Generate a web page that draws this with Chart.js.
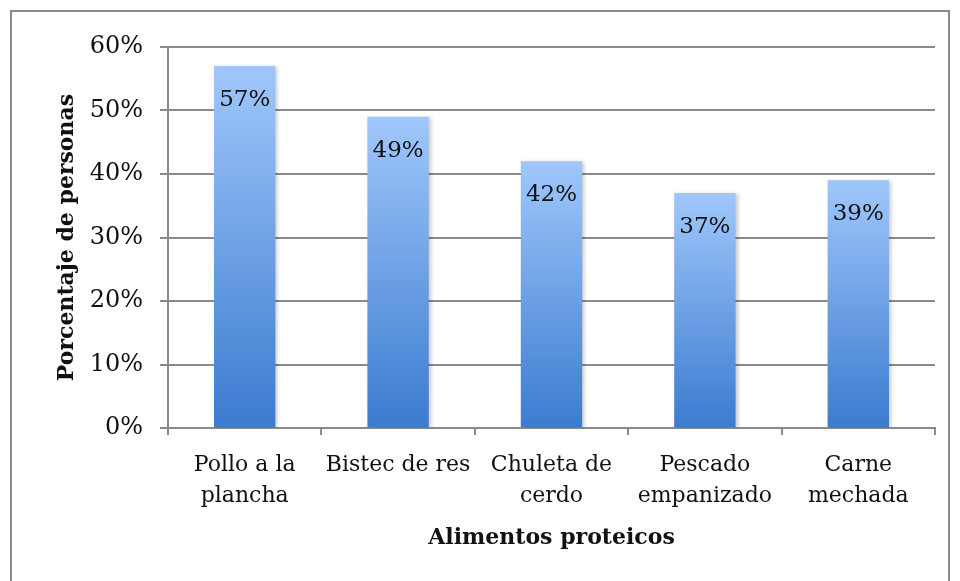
<!DOCTYPE html>
<html>
<head>
<meta charset="utf-8">
<script src="https://cdn.jsdelivr.net/npm/chart.js@4/dist/chart.umd.min.js"></script>
<style>
  html, body { margin: 0; padding: 0; background: #fff; }
  #wrap { width: 960px; height: 581px; }
</style>
</head>
<body>
<div id="wrap"><canvas id="proteinChart" width="960" height="581"></canvas></div>
<script>
// datos
const categories = [
  ["Pollo a la", "plancha"],
  ["Bistec de res"],
  ["Chuleta de", "cerdo"],
  ["Pescado", "empanizado"],
  ["Carne", "mechada"]
];
const percentages = [57, 49, 42, 37, 39];
const yTicks = [0, 10, 20, 30, 40, 50, 60];

const serif = "'DejaVu Serif', 'Liberation Serif', serif";
const gridGray = "#8a8a8a";

// degradado por barra (claro arriba, oscuro abajo)
function barGradient(context) {
  const chart = context.chart;
  const y = chart.scales.y;
  if (!chart.chartArea || !y) return "#6fa0e6";
  const top = y.getPixelForValue(context.raw);
  const bottom = y.getPixelForValue(0);
  const g = chart.ctx.createLinearGradient(0, top, 0, bottom);
  g.addColorStop(0, "#a0c7fb");
  g.addColorStop(1, "#3b7bcf");
  return g;
}

// marco gris alrededor del gráfico
const framePlugin = {
  id: "frame",
  beforeDraw(chart) {
    const ctx = chart.ctx;
    ctx.save();
    ctx.fillStyle = "#fff";
    ctx.fillRect(0, 0, chart.width, chart.height);
    ctx.strokeStyle = "#8c8c8c";
    ctx.lineWidth = 2;
    ctx.strokeRect(11, 11, 938, 600);
    ctx.restore();
  }
};

// sombra suave de las barras
const shadowPlugin = {
  id: "barShadow",
  beforeDatasetsDraw(chart) {
    const ctx = chart.ctx;
    ctx.save();
    ctx.shadowColor = "rgba(0,0,0,0.22)";
    ctx.shadowBlur = 4;
    ctx.shadowOffsetX = 2;
    ctx.shadowOffsetY = 1;
  },
  afterDatasetsDraw(chart) {
    chart.ctx.restore();
  }
};

// etiquetas de valor dentro de la barra
const valueLabels = {
  id: "valueLabels",
  afterDatasetsDraw(chart) {
    const ctx = chart.ctx;
    const meta = chart.getDatasetMeta(0);
    ctx.save();
    ctx.font = "23px " + serif;
    ctx.fillStyle = "#111";
    ctx.textAlign = "center";
    ctx.textBaseline = "middle";
    meta.data.forEach((bar, i) => {
      ctx.fillText(percentages[i] + "%", bar.x, bar.y + 34);
    });
    ctx.restore();
  }
};

const ctx = document.getElementById("proteinChart").getContext("2d");

new Chart(ctx, {
  type: "bar",
  data: {
    labels: categories,
    datasets: [{
      data: percentages,
      backgroundColor: barGradient,
      borderWidth: 0,
      barPercentage: 0.4,
      categoryPercentage: 1.0
    }]
  },
  options: {
    responsive: false,
    animation: false,
    events: [],
    layout: { padding: { left: 0, right: 25, top: 47, bottom: 0 } },
    plugins: {
      legend: { display: false },
      tooltip: { enabled: false }
    },
    scales: {
      x: {
        afterFit(scale) { scale.height = 153; },
        grid: {
          offset: true,
          drawOnChartArea: false,
          drawTicks: true,
          tickLength: 7,
          color: gridGray,
          lineWidth: 2
        },
        border: { color: gridGray, width: 2 },
        ticks: {
          color: "#111",
          padding: 15,
          maxRotation: 0,
          autoSkip: false,
          font: { family: serif, size: 22, lineHeight: 1.4 }
        },
        title: {
          display: true,
          text: "Alimentos proteicos",
          color: "#111",
          font: { family: serif, size: 22, weight: "bold" },
          padding: { top: 0, bottom: 30 }
        }
      },
      y: {
        min: 0,
        max: 60,
        afterFit(scale) { scale.width = 168; },
        afterBuildTicks(scale) { scale.ticks = yTicks.map(v => ({ value: v })); },
        grid: {
          color: gridGray,
          lineWidth: 2,
          drawTicks: true,
          tickLength: 8
        },
        border: { color: gridGray, width: 2 },
        ticks: {
          color: "#111",
          padding: 17,
          font: { family: serif, size: 24 },
          callback: v => v + "%"
        },
        title: {
          display: true,
          text: "Porcentaje de personas",
          color: "#111",
          font: { family: serif, size: 22, weight: "bold" },
          padding: { top: 54, bottom: 0 }
        }
      }
    }
  },
  plugins: [framePlugin, shadowPlugin, valueLabels]
});
</script>
</body>
</html>
